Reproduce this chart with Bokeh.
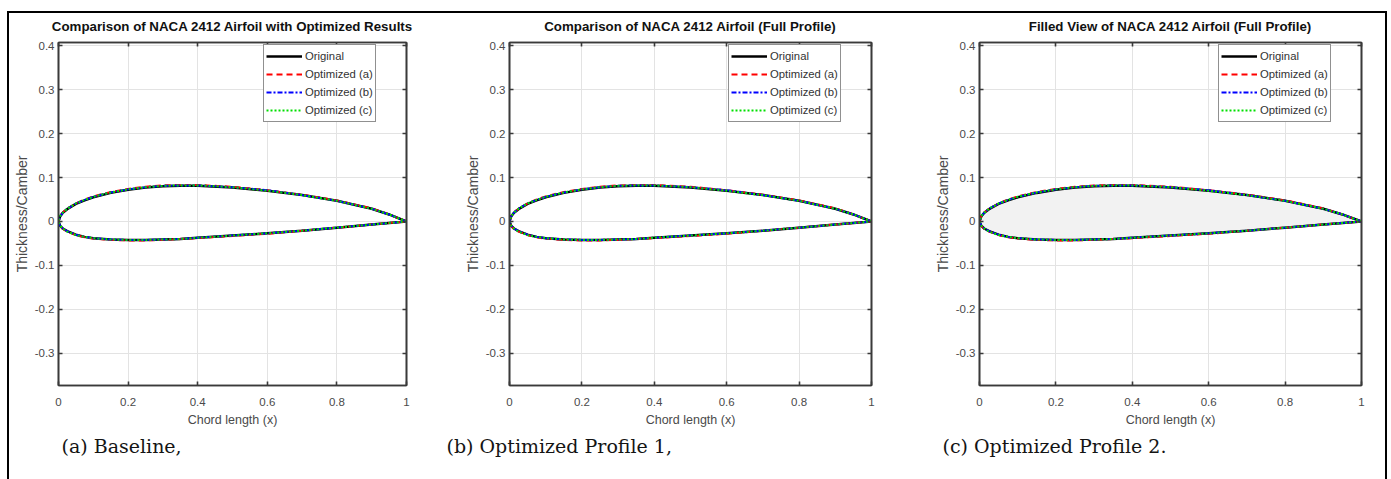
from bokeh.plotting import figure
from bokeh.layouts import row
from bokeh.models import (Range1d, FixedTicker, LinearAxis, Legend, LegendItem, Title)
from bokeh.embed import file_html
from bokeh.resources import INLINE

# Chordwise stations shared by all profiles
x_stations = [0.0, 0.005, 0.0125, 0.025, 0.05, 0.075, 0.1, 0.15, 0.2, 0.25, 0.3,
              0.35, 0.4, 0.5, 0.6, 0.7, 0.8, 0.9, 0.95, 1.0]

# Surface ordinates (y/c) of the baseline and optimized profiles
upper_original = [0.0, 0.012, 0.020, 0.028, 0.040, 0.048, 0.055, 0.065, 0.072, 0.077, 0.080,
                  0.081, 0.081, 0.077, 0.070, 0.060, 0.047, 0.029, 0.016, 0.0]
lower_original = [0.0, -0.010, -0.016, -0.022, -0.030, -0.035, -0.038, -0.041, -0.042, -0.042, -0.041,
                  -0.040, -0.037, -0.032, -0.027, -0.021, -0.014, -0.007, -0.0035, 0.0]
upper_opt_a = [0.0, 0.013, 0.021, 0.029, 0.041, 0.050, 0.057, 0.067, 0.074, 0.079, 0.082,
               0.083, 0.083, 0.079, 0.071, 0.061, 0.048, 0.030, 0.016, 0.0]
lower_opt_a = [0.0, -0.011, -0.017, -0.023, -0.031, -0.036, -0.039, -0.042, -0.043, -0.043, -0.042,
               -0.040, -0.038, -0.033, -0.028, -0.021, -0.014, -0.007, -0.0035, 0.0]
upper_opt_b = [0.0, 0.012, 0.020, 0.029, 0.041, 0.049, 0.056, 0.066, 0.073, 0.078, 0.081,
               0.082, 0.082, 0.078, 0.071, 0.060, 0.047, 0.029, 0.016, 0.0]
lower_opt_b = [0.0, -0.010, -0.016, -0.022, -0.030, -0.035, -0.038, -0.041, -0.042, -0.042, -0.041,
               -0.040, -0.037, -0.032, -0.027, -0.021, -0.014, -0.007, -0.0035, 0.0]
upper_opt_c = [0.0, 0.013, 0.020, 0.029, 0.041, 0.049, 0.056, 0.066, 0.073, 0.078, 0.081,
               0.082, 0.082, 0.078, 0.070, 0.060, 0.047, 0.029, 0.016, 0.0]
lower_opt_c = [0.0, -0.010, -0.016, -0.023, -0.031, -0.035, -0.038, -0.041, -0.042, -0.042, -0.041,
               -0.040, -0.037, -0.032, -0.027, -0.021, -0.014, -0.007, -0.0035, 0.0]

series_names = ["Original", "Optimized (a)", "Optimized (b)", "Optimized (c)"]
x_ticks = [0, 0.2, 0.4, 0.6, 0.8, 1]
x_tick_labels = ["0", "0.2", "0.4", "0.6", "0.8", "1"]
y_ticks = [-0.3, -0.2, -0.1, 0, 0.1, 0.2, 0.3, 0.4]
y_tick_labels = ["-0.3", "-0.2", "-0.1", "0", "0.1", "0.2", "0.3", "0.4"]

titles = ["Comparison of NACA 2412 Airfoil with Optimized Results",
          "Comparison of NACA 2412 Airfoil (Full Profile)",
          "Filled View of NACA 2412 Airfoil (Full Profile)"]
captions = ["(a) Baseline,", "(b) Optimized Profile 1,", "(c) Optimized Profile 2."]

SANS = "Liberation Sans"
SERIF = "DejaVu Serif"
GRAY_TXT = "#4a4a4a"
BOX = "#3a3a3a"


def closed_loop(upper, lower):
    # trailing edge -> leading edge along the upper surface, then back along the lower one
    xs = list(reversed(x_stations)) + x_stations[1:]
    ys = list(reversed(upper)) + lower[1:]
    return xs, ys


profiles = [closed_loop(upper_original, lower_original),
            closed_loop(upper_opt_a, lower_opt_a),
            closed_loop(upper_opt_b, lower_opt_b),
            closed_loop(upper_opt_c, lower_opt_c)]
styles = [dict(color="#000000", width=2.5, dash="solid"),
          dict(color="#ff0000", width=2.0, dash="6 4"),
          dict(color="#0000ff", width=2.0, dash="5 2 2 2"),
          dict(color="#00e000", width=2.0, dash="2 2")]

# per panel: figure width, border left/right, caption offset from frame left
panels = [dict(w=431, bl=49, br=34, cap_off=3, filled=False),
          dict(w=475, bl=69, br=44, cap_off=-63, filled=False),
          dict(w=470, bl=64, br=24, cap_off=-37, filled=True)]
LIFT = 6                      # figures start slightly above the frame's top border line
FIG_H = 466 + LIFT
BT, BB = 29 + LIFT, 94
LEG_W, LEG_H = 112, 78


def style_axis(ax, ticks, show_labels=True):
    ax.ticker = FixedTicker(ticks=ticks)
    ax.axis_line_color = BOX
    ax.axis_line_width = 1.6
    ax.major_tick_line_color = BOX
    ax.major_tick_line_width = 1.6
    ax.major_tick_in = 4
    ax.major_tick_out = 0
    ax.minor_tick_line_color = None
    if show_labels:
        ax.major_label_text_font = SANS
        ax.major_label_text_font_size = "11.5px"
        ax.major_label_text_color = GRAY_TXT
        ax.axis_label_text_font = SANS
        ax.axis_label_text_font_style = "normal"
        ax.axis_label_text_color = GRAY_TXT
    else:
        # tick marks only, mirrored on the opposite side of the box
        ax.major_label_text_font_size = "0px"
        ax.major_label_text_color = None
        ax.major_label_standoff = 0


figs = []
for i, cfg in enumerate(panels):
    p = figure(width=cfg["w"], height=FIG_H, output_backend="svg", toolbar_location=None,
               x_range=Range1d(0, 1), y_range=Range1d(-0.373, 0.407),
               min_border_left=cfg["bl"], min_border_right=cfg["br"],
               min_border_top=BT, min_border_bottom=BB,
               title=titles[i], styles={"margin-top": f"-{LIFT}px"})
    p.title.text_font = SANS
    p.title.text_font_size = "13.3px"
    p.title.text_font_style = "bold"
    p.title.text_color = "#111111"
    p.title.align = "center"
    p.title.standoff = 18
    p.outline_line_color = BOX
    p.outline_line_width = 1.6
    p.background_fill_color = "white"
    p.border_fill_color = "white"
    p.border_fill_alpha = 0.0

    p.xaxis.axis_label = "Chord length (x)"
    p.yaxis.axis_label = "Thickness/Camber"
    for ax in p.xaxis:
        style_axis(ax, x_ticks)
    for ax in p.yaxis:
        style_axis(ax, y_ticks)
    p.xaxis.major_label_overrides = dict(zip(x_ticks, x_tick_labels))
    p.yaxis.major_label_overrides = dict(zip(y_ticks, y_tick_labels))
    p.xaxis.axis_label_text_font_size = "12.5px"
    p.yaxis.axis_label_text_font_size = "14px"
    p.xaxis.major_label_standoff = 12
    p.yaxis.major_label_standoff = 4
    p.xaxis.axis_label_standoff = 4
    p.yaxis.axis_label_standoff = 2

    top_ax = LinearAxis()
    right_ax = LinearAxis()
    style_axis(top_ax, x_ticks, show_labels=False)
    style_axis(right_ax, y_ticks, show_labels=False)
    p.add_layout(top_ax, "above")
    p.add_layout(right_ax, "right")

    p.xgrid.ticker = FixedTicker(ticks=x_ticks)
    p.ygrid.ticker = FixedTicker(ticks=y_ticks)
    p.grid.grid_line_color = "#e3e3e3"
    p.grid.grid_line_width = 1

    if cfg["filled"]:
        fx, fy = profiles[0]
        p.patch(fx, fy, fill_color="#f2f2f2", line_color=None)

    items = []
    for name, (xs, ys), st in zip(series_names, profiles, styles):
        r = p.line(xs, ys, line_color=st["color"], line_width=st["width"], line_dash=st["dash"])
        items.append(LegendItem(label=name, renderers=[r]))

    frame_w = cfg["w"] - cfg["bl"] - cfg["br"]
    frame_h = FIG_H - BT - BB
    leg = Legend(items=items, location=(frame_w - 31 - LEG_W, frame_h - 2 - LEG_H),
                 glyph_width=36, glyph_height=18, label_height=18, label_standoff=3,
                 spacing=0, padding=2, margin=0,
                 label_text_font=SANS, label_text_font_size="11.3px", label_text_color="#333333",
                 border_line_color="#222222", border_line_width=1.5,
                 background_fill_color="white", background_fill_alpha=1.0)
    p.add_layout(leg, "center")

    cap = Title(text=captions[i], align="left", offset=cfg["cap_off"],
                text_font=SERIF, text_font_size="19px", text_font_style="normal",
                text_color="#141414", standoff=6)
    p.add_layout(cap, "below")
    figs.append(p)

layout = row(*figs, spacing=0,
             styles={"border-left": "2px solid black", "border-top": "2px solid black",
                     "border-right": "2px solid black", "margin-left": "7px", "margin-top": "11px"})

open("out.html", "w").write(file_html(layout, INLINE))
